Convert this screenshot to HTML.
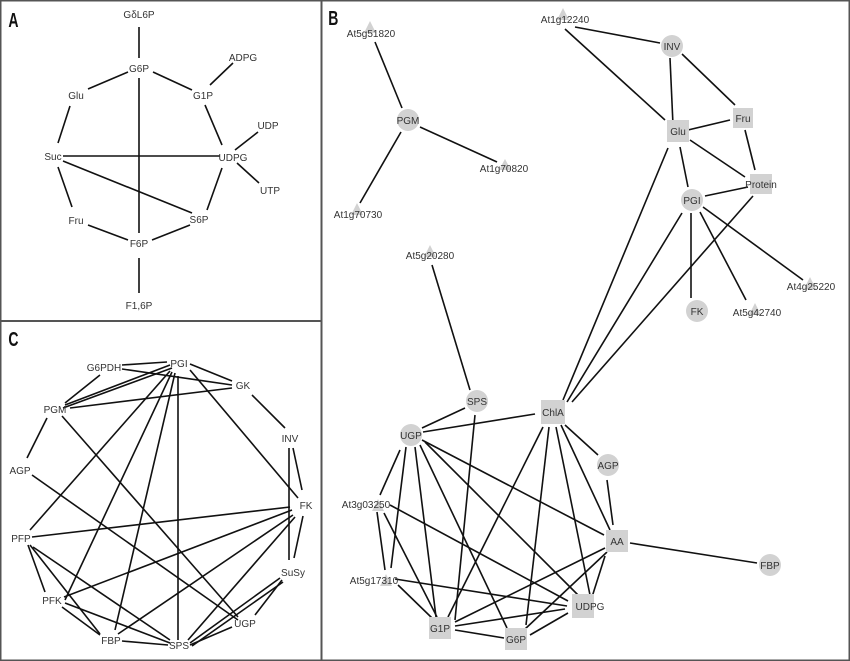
<!DOCTYPE html>
<html><head><meta charset="utf-8"><style>
html,body{margin:0;padding:0;background:#fff}
svg{display:block}
text{font-family:"Liberation Sans",sans-serif;font-size:10px;fill:#333}
.L{font-family:"Liberation Sans Narrow","Liberation Sans",sans-serif;font-size:20px;font-weight:bold;fill:#111}
line{stroke:#111;stroke-width:1.6}
.c{fill:#d2d2d2}
</style></head><body>
<svg width="850" height="661" viewBox="0 0 850 661" xmlns="http://www.w3.org/2000/svg">
<rect x="0.5" y="0.5" width="849" height="660" fill="#fff" stroke="#555" stroke-width="2"/>
<line x1="321.5" y1="0" x2="321.5" y2="661" style="stroke:#555;stroke-width:2"/>
<line x1="0" y1="321" x2="321" y2="321" style="stroke:#555;stroke-width:2"/>
<text class="L" x="12" y="27" transform="scale(0.7,1)">A</text>
<text class="L" x="469" y="25" transform="scale(0.7,1)">B</text>
<text class="L" x="12" y="346" transform="scale(0.7,1)">C</text>

<g>
<line x1="139" y1="27" x2="139" y2="58"/>
<line x1="88" y1="89" x2="128" y2="72"/>
<line x1="153" y1="72" x2="192" y2="90"/>
<line x1="210" y1="85" x2="233" y2="63"/>
<line x1="70" y1="106" x2="58" y2="143"/>
<line x1="205" y1="105" x2="222" y2="145"/>
<line x1="139" y1="78" x2="139" y2="233"/>
<line x1="63" y1="156" x2="220" y2="156"/>
<line x1="235" y1="150" x2="258" y2="132"/>
<line x1="237" y1="163" x2="259" y2="183"/>
<line x1="63" y1="161" x2="192" y2="213"/>
<line x1="58" y1="167" x2="72" y2="207"/>
<line x1="222" y1="168" x2="207" y2="210"/>
<line x1="88" y1="225" x2="128" y2="240"/>
<line x1="190" y1="225" x2="152" y2="240"/>
<line x1="139" y1="258" x2="139" y2="293"/>
</g>
<g text-anchor="middle">
<text x="139" y="18">GδL6P</text>
<text x="139" y="72">G6P</text>
<text x="76" y="99">Glu</text>
<text x="203" y="99">G1P</text>
<text x="243" y="61">ADPG</text>
<text x="53" y="160">Suc</text>
<text x="233" y="161">UDPG</text>
<text x="268" y="129">UDP</text>
<text x="270" y="194">UTP</text>
<text x="76" y="224">Fru</text>
<text x="199" y="223">S6P</text>
<text x="139" y="247">F6P</text>
<text x="139" y="309">F1,6P</text>
</g>

<g>
<line x1="122" y1="365" x2="167" y2="362"/>
<line x1="122" y1="369" x2="232" y2="385"/>
<line x1="190" y1="364" x2="232" y2="381"/>
<line x1="190" y1="370" x2="298" y2="498"/>
<line x1="65" y1="403" x2="100" y2="375"/>
<line x1="65" y1="405" x2="170" y2="365"/>
<line x1="63" y1="408" x2="172" y2="368"/>
<line x1="70" y1="408" x2="232" y2="388"/>
<line x1="62" y1="416" x2="238" y2="617"/>
<line x1="47" y1="418" x2="27" y2="458"/>
<line x1="252" y1="395" x2="285" y2="428"/>
<line x1="293" y1="448" x2="302" y2="490"/>
<line x1="289" y1="448" x2="289" y2="560"/>
<line x1="303" y1="516" x2="294" y2="558"/>
<line x1="170" y1="371" x2="30" y2="530"/>
<line x1="172" y1="372" x2="65" y2="600"/>
<line x1="175" y1="373" x2="115" y2="630"/>
<line x1="178" y1="376" x2="178" y2="640"/>
<line x1="32" y1="475" x2="238" y2="620"/>
<line x1="290" y1="507" x2="32" y2="537"/>
<line x1="292" y1="510" x2="64" y2="597"/>
<line x1="293" y1="515" x2="118" y2="634"/>
<line x1="295" y1="517" x2="188" y2="640"/>
<line x1="28" y1="545" x2="45" y2="592"/>
<line x1="30" y1="545" x2="100" y2="634"/>
<line x1="33" y1="547" x2="170" y2="640"/>
<line x1="62" y1="607" x2="100" y2="635"/>
<line x1="65" y1="603" x2="170" y2="643"/>
<line x1="122" y1="641" x2="168" y2="645"/>
<line x1="190" y1="645" x2="232" y2="627"/>
<line x1="190" y1="643" x2="280" y2="578"/>
<line x1="192" y1="646" x2="283" y2="582"/>
<line x1="255" y1="615" x2="282" y2="580"/>
</g>
<g text-anchor="middle">
<text x="179" y="367">PGI</text>
<text x="104" y="371">G6PDH</text>
<text x="243" y="389">GK</text>
<text x="55" y="413">PGM</text>
<text x="290" y="442">INV</text>
<text x="20" y="474">AGP</text>
<text x="306" y="509">FK</text>
<text x="21" y="542">PFP</text>
<text x="293" y="576">SuSy</text>
<text x="52" y="604">PFK</text>
<text x="245" y="627">UGP</text>
<text x="111" y="644">FBP</text>
<text x="179" y="649">SPS</text>
</g>

<g>
<line x1="375" y1="42" x2="402" y2="108"/>
<line x1="420" y1="127" x2="497" y2="162"/>
<line x1="401" y1="132" x2="360" y2="203"/>
<line x1="575" y1="27" x2="660" y2="43"/>
<line x1="565" y1="29" x2="665" y2="120"/>
<line x1="670" y1="58" x2="673" y2="125"/>
<line x1="682" y1="54" x2="735" y2="105"/>
<line x1="688" y1="130" x2="730" y2="120"/>
<line x1="690" y1="140" x2="745" y2="177"/>
<line x1="745" y1="130" x2="755" y2="170"/>
<line x1="680" y1="147" x2="688" y2="187"/>
<line x1="705" y1="196" x2="748" y2="187"/>
<line x1="691" y1="213" x2="691" y2="298"/>
<line x1="700" y1="212" x2="746" y2="300"/>
<line x1="703" y1="207" x2="803" y2="280"/>
<line x1="668" y1="148" x2="563" y2="400"/>
<line x1="682" y1="213" x2="567" y2="402"/>
<line x1="753" y1="196" x2="572" y2="402"/>
<line x1="432" y1="265" x2="470" y2="390"/>
<line x1="465" y1="408" x2="422" y2="428"/>
<line x1="535" y1="414" x2="423" y2="432"/>
<line x1="475" y1="415" x2="455" y2="620"/>
<line x1="565" y1="425" x2="598" y2="455"/>
<line x1="607" y1="480" x2="613" y2="525"/>
<line x1="561" y1="425" x2="610" y2="530"/>
<line x1="556" y1="427" x2="590" y2="595"/>
<line x1="549" y1="427" x2="526" y2="625"/>
<line x1="543" y1="427" x2="448" y2="617"/>
<line x1="630" y1="543" x2="757" y2="563"/>
<line x1="422" y1="440" x2="604" y2="535"/>
<line x1="425" y1="442" x2="578" y2="595"/>
<line x1="420" y1="445" x2="507" y2="628"/>
<line x1="415" y1="447" x2="436" y2="617"/>
<line x1="400" y1="450" x2="380" y2="495"/>
<line x1="406" y1="447" x2="391" y2="568"/>
<line x1="377" y1="512" x2="385" y2="570"/>
<line x1="390" y1="505" x2="568" y2="601"/>
<line x1="384" y1="513" x2="437" y2="617"/>
<line x1="395" y1="579" x2="567" y2="606"/>
<line x1="398" y1="585" x2="432" y2="618"/>
<line x1="605" y1="548" x2="455" y2="622"/>
<line x1="607" y1="552" x2="524" y2="630"/>
<line x1="605" y1="556" x2="592" y2="597"/>
<line x1="455" y1="626" x2="565" y2="609"/>
<line x1="455" y1="630" x2="504" y2="638"/>
<line x1="530" y1="635" x2="568" y2="613"/>
</g>
<g class="c">
<circle cx="408" cy="120" r="11"/>
<circle cx="672" cy="46" r="11"/>
<circle cx="692" cy="200" r="11"/>
<circle cx="697" cy="311" r="11"/>
<circle cx="477" cy="401" r="11"/>
<circle cx="411" cy="435" r="11"/>
<circle cx="608" cy="465" r="11"/>
<circle cx="770" cy="565" r="11"/>
<rect x="733" y="108" width="20" height="20"/>
<rect x="667" y="120" width="22" height="22"/>
<rect x="750" y="174" width="22" height="20"/>
<rect x="541" y="400" width="24" height="24"/>
<rect x="606" y="530" width="22" height="22"/>
<rect x="572" y="594" width="22" height="24"/>
<rect x="429" y="617" width="22" height="22"/>
<rect x="505" y="628" width="22" height="22"/>
<polygon points="370,21 364,33 376,33"/>
<polygon points="563,8 557,20 569,20"/>
<polygon points="505,159 499,170 511,170"/>
<polygon points="357,203 351,215 363,215"/>
<polygon points="430,245 424,257 436,257"/>
<polygon points="810,277 804,289 816,289"/>
<polygon points="755,303 749,315 761,315"/>
<polygon points="378,499 372,511 384,511"/>
<polygon points="386,574 380,586 392,586"/>
</g>
<g text-anchor="middle">
<text x="371" y="37">At5g51820</text>
<text x="408" y="124">PGM</text>
<text x="504" y="172">At1g70820</text>
<text x="358" y="218">At1g70730</text>
<text x="565" y="23">At1g12240</text>
<text x="672" y="50">INV</text>
<text x="743" y="122">Fru</text>
<text x="678" y="135">Glu</text>
<text x="761" y="188">Protein</text>
<text x="692" y="204">PGI</text>
<text x="811" y="290">At4g25220</text>
<text x="697" y="315">FK</text>
<text x="757" y="316">At5g42740</text>
<text x="430" y="259">At5g20280</text>
<text x="477" y="405">SPS</text>
<text x="553" y="416">ChlA</text>
<text x="411" y="439">UGP</text>
<text x="608" y="469">AGP</text>
<text x="366" y="508">At3g03250</text>
<text x="617" y="545">AA</text>
<text x="770" y="569">FBP</text>
<text x="374" y="584">At5g17310</text>
<text x="590" y="610">UDPG</text>
<text x="440" y="632">G1P</text>
<text x="516" y="643">G6P</text>
</g>
</svg>
</body></html>
